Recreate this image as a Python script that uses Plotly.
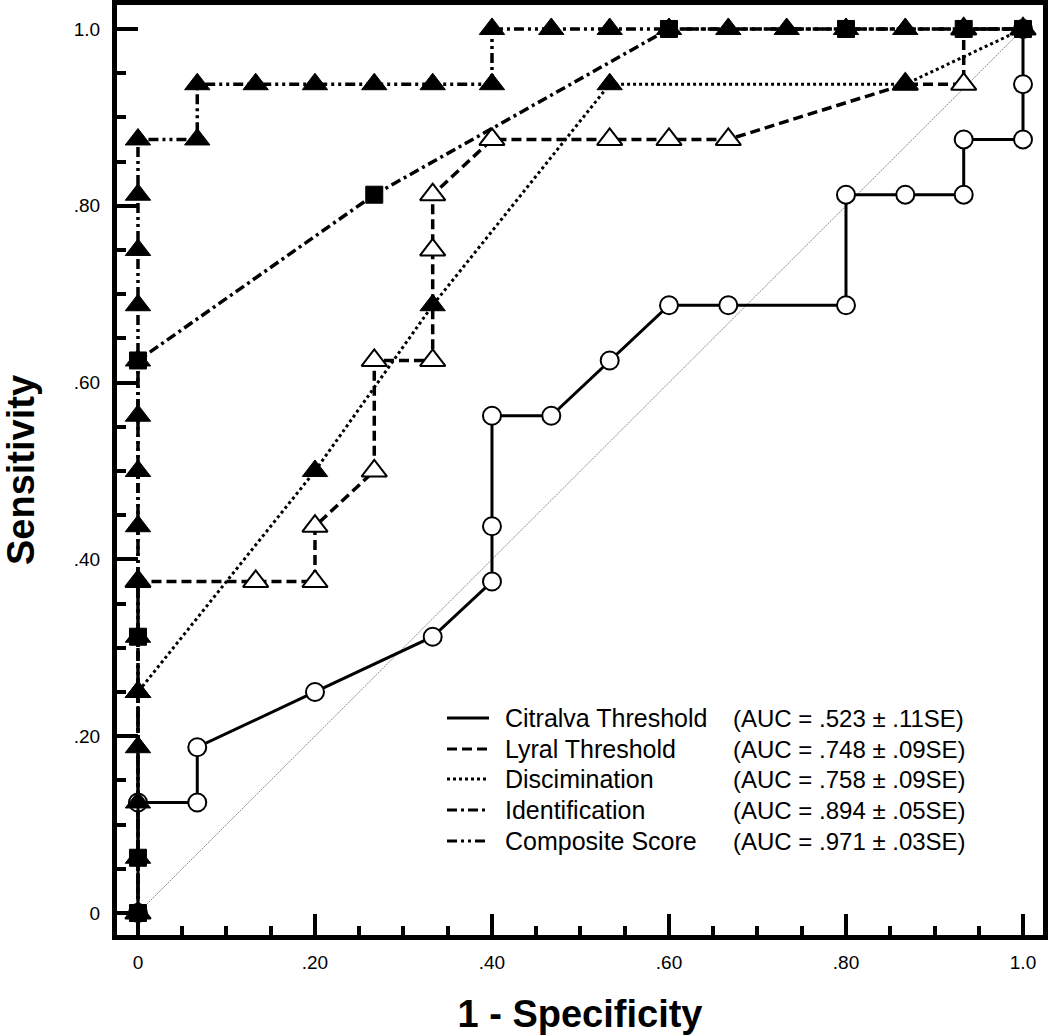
import plotly.graph_objects as go

# ---------------- data ----------------
citralva_x = [0, 0, .067, .067, .200, .333, .400, .400, .400, .467, .533, .600, .667, .800, .800, .867, .933, .933, 1.0, 1.0, 1.0]
citralva_y = [0, .125, .125, .1875, .250, .3125, .375, .4375, .5625, .5625, .625, .6875, .6875, .6875, .8125, .8125, .8125, .875, .875, .9375, 1.0]

lyral_x = [0, 0, .133, .200, .200, .267, .267, .333, .333, .333, .400, .533, .600, .667, .867, .933, .933, 1.0]
lyral_y = [0, .375, .375, .375, .4375, .500, .625, .625, .750, .8125, .875, .875, .875, .875, .9375, .9375, 1.0, 1.0]

disc_x = [0, 0, .200, .333, .533, .867, 1.0]
disc_y = [0, .250, .500, .6875, .9375, .9375, 1.0]

ident_x = [0, 0, 0, 0, .267, .600, .800, .933, 1.0]
ident_y = [0, .0625, .3125, .625, .8125, 1.0, 1.0, 1.0, 1.0]

comp_x = [0, 0, 0, 0, 0, 0, 0, 0, 0, 0, 0, 0, 0, 0, 0,
          .067, .067, .133, .200, .267, .333, .400, .400, .467, .533, .600, .667, .733, .800, .867, .933, 1.0]
comp_y = [0, .0625, .125, .1875, .250, .3125, .375, .4375, .500, .5625, .625, .6875, .750, .8125, .875,
          .875, .9375, .9375, .9375, .9375, .9375, .9375, 1.0, 1.0, 1.0, 1.0, 1.0, 1.0, 1.0, 1.0, 1.0, 1.0]

diag_x = [0, 1.0]
diag_y = [0, 1.0]

series_names = ["Citralva Threshold", "Lyral Threshold", "Discimination", "Identification", "Composite Score"]
auc_labels = ["(AUC = .523 \u00b1 .11SE)", "(AUC = .748 \u00b1 .09SE)", "(AUC = .758 \u00b1 .09SE)",
              "(AUC = .894 \u00b1 .05SE)", "(AUC = .971 \u00b1 .03SE)"]

tick_vals = [0, .2, .4, .6, .8, 1.0]
tick_text = ["0", ".20", ".40", ".60", ".80", "1.0"]
minor_vals = [.05, .10, .15, .25, .30, .35, .45, .50, .55, .65, .70, .75, .85, .90, .95]

# ---------------- styles ----------------
FONT = "Liberation Sans, Arial, sans-serif"
W, H = 1050, 1036
L, R, T, B = 117, 7, 5, 101
dashes = ["solid", "10px,5px", "3px,3px", "10px,4px,3px,4px", "10px,4px,3px,4px,3px,4px"]

fig = go.Figure()

fig.add_trace(go.Scatter(x=diag_x, y=diag_y, mode="lines",
                         line=dict(color="#8a8a8a", width=1, dash="2px,1px"), showlegend=False, hoverinfo="skip"))

fig.add_trace(go.Scatter(x=citralva_x, y=citralva_y, mode="lines+markers",
                         line=dict(color="black", width=3, dash=dashes[0]),
                         marker=dict(symbol="circle", size=18, color="white", line=dict(color="black", width=2)),
                         showlegend=False))

fig.add_trace(go.Scatter(x=lyral_x, y=lyral_y, mode="lines+markers",
                         line=dict(color="black", width=3.5, dash=dashes[1]),
                         marker=dict(symbol="triangle-up", size=22, color="white", line=dict(color="black", width=2)),
                         showlegend=False))

fig.add_trace(go.Scatter(x=disc_x, y=disc_y, mode="lines+markers",
                         line=dict(color="black", width=3, dash=dashes[2]),
                         marker=dict(symbol="triangle-up", size=22, color="black", line=dict(color="black", width=1)),
                         showlegend=False))

fig.add_trace(go.Scatter(x=comp_x, y=comp_y, mode="lines+markers",
                         line=dict(color="black", width=3.5, dash=dashes[4]),
                         marker=dict(symbol="triangle-up", size=22, color="black", line=dict(color="black", width=1)),
                         showlegend=False))

fig.add_trace(go.Scatter(x=ident_x, y=ident_y, mode="lines+markers",
                         line=dict(color="black", width=3.5, dash=dashes[3]),
                         marker=dict(symbol="square", size=17, color="black", line=dict(color="black", width=1)),
                         showlegend=False))

# ---------------- legend (drawn manually) ----------------
pw, ph = W - L - R, H - T - B
def px_x(p):
    return (p - L) / pw
def px_y(p):
    return (H - B - p) / ph

row_y = [718, 749, 779, 810, 841]
shapes = []
annotations = []
for i in range(5):
    yy = px_y(row_y[i])
    shapes.append(dict(type="line", xref="paper", yref="paper", x0=px_x(447), x1=px_x(489), y0=yy, y1=yy,
                       line=dict(color="black", width=3, dash=dashes[i])))
    annotations.append(dict(xref="paper", yref="paper", x=px_x(503), y=yy, text=series_names[i], showarrow=False,
                            xanchor="left", yanchor="middle", font=dict(family=FONT, size=25, color="black")))
    annotations.append(dict(xref="paper", yref="paper", x=px_x(731), y=yy, text=auc_labels[i], showarrow=False,
                            xanchor="left", yanchor="middle", font=dict(family=FONT, size=24, color="black")))

axis_common = dict(
    showgrid=False, zeroline=False, showline=True, linecolor="black", linewidth=5, mirror=True,
    ticks="inside", ticklen=21, tickwidth=4, tickcolor="black", automargin=False,
    tickmode="array", tickvals=tick_vals, ticktext=tick_text,
    tickfont=dict(family=FONT, size=19, color="black"),
    minor=dict(tickmode="array", tickvals=minor_vals, ticks="inside", ticklen=9, tickwidth=4, tickcolor="black"),
)

fig.update_layout(
    width=W, height=H,
    margin=dict(l=L, r=R, t=T, b=B),
    plot_bgcolor="white", paper_bgcolor="white",
    showlegend=False,
    shapes=shapes,
    annotations=annotations,
    xaxis=dict(range=[-0.0237, 1.0226], **axis_common,
               title=dict(text="<b>1 - Specificity</b>", font=dict(family=FONT, size=38, color="black"), standoff=30),
               ticklabelstandoff=6),
    yaxis=dict(range=[-0.0249, 1.0271], **axis_common,
               title=dict(text="<b>Sensitivity</b>", font=dict(family=FONT, size=38, color="black"), standoff=30),
               ticklabelstandoff=8),
)

fig.write_html("out.html", config={"displayModeBar": False},
               post_script="document.body.style.margin='0';document.body.style.overflow='hidden';")
